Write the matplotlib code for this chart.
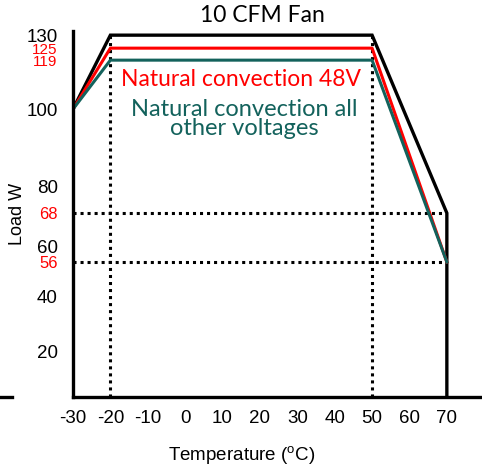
import numpy as np
import matplotlib
matplotlib.use("Agg")
import matplotlib.pyplot as plt
from matplotlib.lines import Line2D

plt.rcParams['font.family'] = ['Liberation Sans', 'DejaVu Sans']
plt.rcParams['mathtext.fontset'] = 'custom'
plt.rcParams['mathtext.rm'] = 'Liberation Sans'

# derating curves (temperature in C, load in W)
temp_fan = [-30, -20, 50, 70, 70]
load_fan = [100, 130, 130, 68, 0]
temp_48v = [-30, -20, 50, 70]
load_48v = [100, 125, 125, 56]
temp_other = [-30, -20, 50, 70]
load_other = [100, 119, 119, 56]

x_ticks = [-30, -20, -10, 0, 10, 20, 30, 40, 50, 60, 70]
y_ticks = [20, 40, 56, 60, 68, 80, 100, 119, 125, 130]
red_ticks = [56, 68, 119, 125]

teal = '#13625C'

# the original drawing has an uneven load axis, so map it piecewise
y_vals = [0, 20, 40, 56, 60, 68, 80, 100, 119, 125, 130, 140]
y_pix = [0, 46, 101, 135, 151, 184, 211, 288, 337, 349, 362, 388]

def fwd(v):
    return np.interp(v, y_vals, y_pix)

def inv(p):
    return np.interp(p, y_pix, y_vals)

W, H = 482, 465
fig = plt.figure(figsize=(W / 100, H / 100), dpi=100)
ax = fig.add_axes([73 / W, (H - 397) / H, (W - 73) / W, (397 - 31) / H])
ax.set_yscale('function', functions=(fwd, inv))

# dotted guide lines
dots = (0, (1, 1.3))
ax.plot([-20, -20], [0, 130], color='black', lw=2.2, ls=dots)
ax.plot([50, 50], [0, 130], color='black', lw=2.2, ls=dots)
ax.plot([-30, 70], [68, 68], color='black', lw=2.2, ls=dots)
ax.plot([-30, 70], [56, 56], color='black', lw=2.2, ls=dots)

ax.plot(temp_fan, load_fan, color='black', lw=2.4, solid_joinstyle='miter')
ax.plot(temp_48v, load_48v, color='red', lw=2.2)
ax.plot(temp_other, load_other, color=teal, lw=2.2)

ax.set_xlim(-30, 79.4)
ax.set_ylim(0, 131.6)

for s in ['top', 'right']:
    ax.spines[s].set_visible(False)
for s in ['left', 'bottom']:
    ax.spines[s].set_linewidth(2.4)

ax.set_xticks(x_ticks)
ax.set_xticklabels([str(t) for t in x_ticks], fontsize=13.5)
ax.set_yticks(y_ticks)
ax.set_yticklabels([str(t) for t in y_ticks])
for t, lab in zip(y_ticks, ax.get_yticklabels()):
    if t in (119, 125):
        lab.set_color('red')
        lab.set_fontsize(11)
    elif t in red_ticks:
        lab.set_color('red')
        lab.set_fontsize(12)
    else:
        lab.set_fontsize(13.5)
ax.tick_params(axis='both', length=0)
ax.tick_params(axis='y', pad=11)
ax.tick_params(axis='x', pad=9)

ax.set_xlabel('Temperature ($^{\\rm o}$C)', fontsize=13.5)
ax.set_ylabel('Load W', fontsize=13)
ax.yaxis.set_label_coords(-0.115, 0.5)
ax.xaxis.set_label_coords(0.413, -0.128)

fig.text(262 / W, 1 - 15 / H, '10 CFM Fan', ha='center', va='center',
         fontsize=16.5, family='Lato')
fig.text(241 / W, 1 - 79 / H, 'Natural convection 48V', ha='center', va='center',
         fontsize=16.5, color='red', family='Lato')
fig.text(244 / W, 1 - 119 / H, 'Natural convection all\nother voltages', ha='center',
         va='center', fontsize=17, color=teal, family='Lato', linespacing=0.92)

# small stray stroke at the far left of the baseline
fig.add_artist(Line2D([0, 12 / W], [(H - 397) / H] * 2, color='black', lw=2.4))

fig.savefig('out.png', dpi=100)
